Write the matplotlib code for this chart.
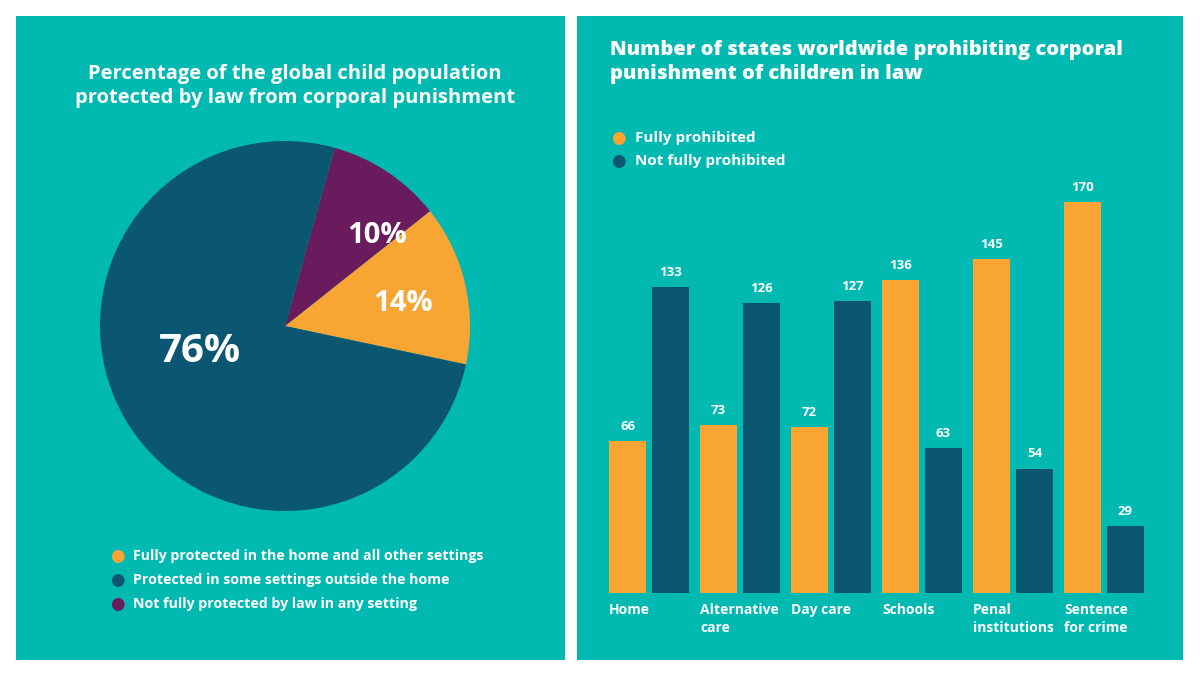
import matplotlib.pyplot as plt
from matplotlib.patches import Rectangle
import matplotlib.transforms as mtransforms

# Colours
teal = '#00B9B1'
orange = '#F9A533'
navy = '#0B5670'
purple = '#6A1B5E'

# Pie data
pie_labels = ['Fully protected in the home and all other settings',
              'Protected in some settings outside the home',
              'Not fully protected by law in any setting']
pie_values = [14, 76, 10]

# Bar data
categories = ['Home', 'Alternative\ncare', 'Day care', 'Schools',
              'Penal\ninstitutions', 'Sentence\nfor crime']
fully = [66, 73, 72, 136, 145, 170]
not_fully = [133, 126, 127, 63, 54, 29]

plt.rcParams['font.family'] = ['Open Sans', 'DejaVu Sans']

fig = plt.figure(figsize=(12, 6.75), dpi=100)
fig.patch.set_facecolor('white')

W, H = 1200.0, 675.0

def px(x0, y0, x1, y1):
    # pixel box -> figure fraction [left, bottom, width, height]
    return [x0 / W, 1 - y1 / H, (x1 - x0) / W, (y1 - y0) / H]

# panel backgrounds
for box in [(16, 16, 565, 660), (577, 16, 1183, 660)]:
    l, b, w, h = px(*box)
    fig.patches.append(Rectangle((l, b), w, h, transform=fig.transFigure,
                                 facecolor=teal, edgecolor='none', zorder=-10))

# ---- left panel: pie ----
fig.text(295 / W, 1 - 86 / H,
         'Percentage of the global child population\nprotected by law from corporal punishment',
         ha='center', va='center', color='white', fontsize=14.5,
         fontweight='bold', linespacing=1.25)

ax1 = fig.add_axes(px(100, 141, 470, 511))
# order: orange, purple counter-clockwise, then navy
order = [0, 2, 1]
vals = [pie_values[i] for i in order]
cols = [[orange, navy, purple][i] for i in order]
wedges, _ = ax1.pie(vals, colors=cols, startangle=-12, counterclock=True,
                    wedgeprops=dict(linewidth=0))
ax1.set_xlim(-1, 1)
ax1.set_ylim(-1, 1)
ax1.set_aspect('equal')
ax1.axis('off')

ax1.text(0.64, 0.12, '{}%'.format(pie_values[0]), color='white',
         fontsize=21, fontweight='bold', ha='center', va='center')
ax1.text(0.50, 0.49, '{}%'.format(pie_values[2]), color='white',
         fontsize=21, fontweight='bold', ha='center', va='center')
ax1.text(-0.46, -0.14, '{}%'.format(pie_values[1]), color='white',
         fontsize=29, fontweight='bold', ha='center', va='center')

# pie legend
for i, (lab, c) in enumerate(zip(pie_labels, [orange, navy, purple])):
    y = 1 - (556 + 24 * i) / H
    fig.text(117 / W, y, '\u25CF', color=c, fontsize=12, ha='center',
             va='center', family='DejaVu Sans')
    fig.text(133 / W, y, lab, color='white', fontsize=10.2,
             fontweight='bold', ha='left', va='center')

# ---- right panel: bars ----
fig.text(610 / W, 1 - 62 / H,
         'Number of states worldwide prohibiting corporal\npunishment of children in law',
         ha='left', va='center', color='white', fontsize=14.5,
         fontweight='heavy', linespacing=1.2)

for i, (lab, c) in enumerate(zip(['Fully prohibited', 'Not fully prohibited'],
                                 [orange, navy])):
    y = 1 - (138 + 23 * i) / H
    fig.text(618 / W, y, '\u25CF', color=c, fontsize=12, ha='center',
             va='center', family='DejaVu Sans')
    fig.text(635 / W, y, lab, color='white', fontsize=11,
             fontweight='bold', ha='left', va='center')

ax2 = fig.add_axes(px(609, 133, 1144, 593))
ax2.set_facecolor('none')
x = list(range(len(categories)))
bw = 0.407
off = 0.236
b1 = ax2.bar([i - off for i in x], fully, width=bw, color=orange)
b2 = ax2.bar([i + off for i in x], not_fully, width=bw, color=navy)
for bars, vals in [(b1, fully), (b2, not_fully)]:
    for rect, v in zip(bars, vals):
        ax2.annotate(str(v), (rect.get_x() + rect.get_width() / 2, v),
                     xytext=(0, 6), textcoords='offset points',
                     ha='center', va='bottom', color='white',
                     fontsize=9.5, fontweight='bold')
ax2.set_xlim(-0.44, 5.44)
ax2.set_ylim(0, 200)
ax2.axis('off')

trans = mtransforms.blended_transform_factory(ax2.transData, fig.transFigure)
for i, cat in enumerate(categories):
    ax2.text(i - 0.44, 1 - 603 / H, cat, transform=trans, ha='left', va='top',
             color='white', fontsize=10, fontweight='bold', linespacing=1.4)

fig.savefig('out.png', dpi=100, facecolor='white')
